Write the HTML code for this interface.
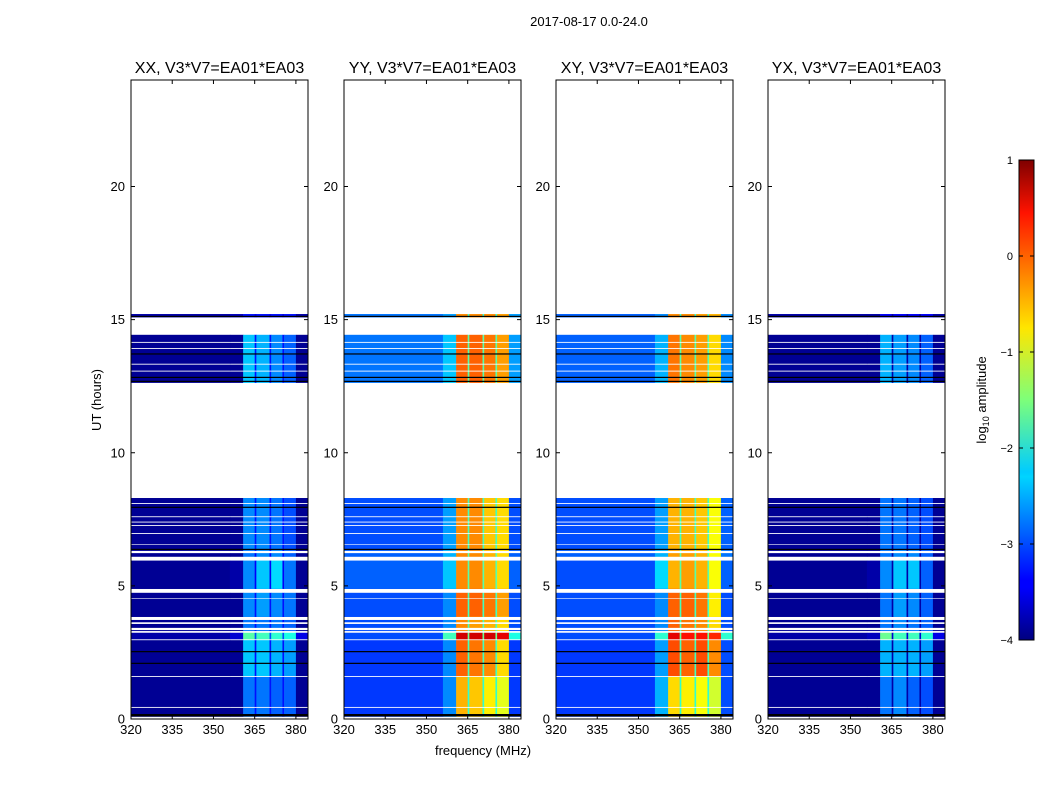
<!DOCTYPE html>
<html><head><meta charset="utf-8"><style>
body{margin:0;background:#fff;width:1050px;height:800px;overflow:hidden;font-family:"Liberation Sans",sans-serif}
</style></head><body>
<svg id="fig" width="1050" height="800" xmlns="http://www.w3.org/2000/svg" style="font-family:'Liberation Sans',sans-serif">
<text x="589" y="26" font-size="13" text-anchor="middle">2017-08-17 0.0-24.0</text>
<text transform="translate(101,400) rotate(-90)" font-size="13" text-anchor="middle">UT (hours)</text>
<text x="483" y="755" font-size="13" text-anchor="middle">frequency (MHz)</text>
<defs><linearGradient id="jet" x1="0" y1="1" x2="0" y2="0">
<stop offset="0" stop-color="#00007f"/><stop offset="0.11" stop-color="#0000ff"/><stop offset="0.125" stop-color="#0000ff"/><stop offset="0.34" stop-color="#00d4ff"/><stop offset="0.35" stop-color="#0cf"/><stop offset="0.5" stop-color="#7dff7a"/><stop offset="0.65" stop-color="#ffe600"/><stop offset="0.89" stop-color="#ff1300"/><stop offset="1" stop-color="#7f0000"/></linearGradient></defs>
<g>
<rect x="1019" y="160" width="15" height="480" fill="url(#jet)" stroke="#000" stroke-width="1"/>
<text transform="translate(986,400) rotate(-90)" font-size="13" text-anchor="middle">log<tspan font-size="9" dy="3">10</tspan><tspan dy="-3"> amplitude</tspan></text>
</g>
<g id="panels"></g>
<g id="cbticks"></g>
</svg>
<script>
const panelTitles = ["XX, V3*V7=EA01*EA03","YY, V3*V7=EA01*EA03","XY, V3*V7=EA01*EA03","YX, V3*V7=EA01*EA03"];
const dataSegments = [[0.09,0.42],[0.46,1.58],[1.62,2.96],[3.0,3.24],[3.31,3.34],[3.43,3.57],[3.64,3.72],[3.84,4.52],[4.55,4.74],[4.89,5.95],[6.10,6.23],[6.32,6.55],[6.58,6.95],[6.99,7.25],[7.29,7.38],[7.42,7.58],[7.62,8.08],[8.12,8.30],[12.63,13.05],[13.09,13.31],[13.35,13.90],[13.94,14.13],[14.17,14.43],[15.09,15.21]];
const blackLines = [0.165,2.09,2.53,6.37,7.95,12.68,12.83,13.71,15.12];
const blockEdges = [0,1.6,3.0,3.3,3.85,4.9,6.0,6.35,8.3,14.43,15.3];
const freqEdges = [320,356,360.8,365,365.6,370.4,371,375.1,375.7,380,384.4];
const valsXX = [
[-3.9,-3.9,-2.8,-3.3,-2.8,-3.3,-2.9,-3.3,-2.9,-3.9],
[-3.9,-3.9,-2.4,-3.3,-2.4,-3.3,-2.5,-3.3,-2.6,-3.9],
[-3.8,-3.6,-1.7,-3.0,-1.8,-3.0,-1.9,-3.0,-2.0,-3.5],
[-3.9,-3.9,-2.8,-3.3,-2.8,-3.3,-2.8,-3.3,-2.9,-3.9],
[-3.9,-3.9,-2.7,-3.3,-2.6,-3.3,-2.7,-3.3,-2.8,-3.9],
[-3.9,-3.8,-2.7,-3.4,-2.4,-3.4,-2.3,-3.4,-2.8,-3.9],
[-3.9,-3.9,-2.8,-3.4,-2.7,-3.4,-2.7,-3.4,-2.9,-3.9],
[-3.9,-3.9,-2.7,-3.3,-2.7,-3.3,-2.8,-3.3,-3.0,-3.9],
[-3.9,-3.9,-2.4,-3.3,-2.5,-3.3,-2.7,-3.3,-2.9,-3.9],
[-3.8,-3.7,-3.3,-3.5,-3.3,-3.5,-3.3,-3.5,-3.3,-3.8]];
const valsYY = [
[-3.1,-2.7,-0.5,-1.9,-0.6,-1.9,-0.8,-1.9,-1.0,-3.1],
[-3.1,-2.7,-0.1,-1.8,-0.2,-1.8,-0.3,-1.8,-0.7,-3.1],
[-3.0,-1.8,0.6,-1.6,0.6,-1.6,0.6,-1.6,0.5,-2.0],
[-3.0,-2.7,-0.3,-1.8,-0.4,-1.8,-0.5,-1.8,-0.7,-3.0],
[-3.0,-2.7,-0.1,-1.8,-0.1,-1.8,-0.2,-1.8,-0.4,-3.0],
[-2.9,-2.4,-0.3,-1.7,-0.3,-1.7,-0.5,-1.7,-0.7,-2.9],
[-2.9,-2.5,-0.3,-1.7,-0.3,-1.7,-0.5,-1.7,-0.7,-2.9],
[-3.0,-2.6,-0.3,-1.8,-0.3,-1.8,-0.6,-1.8,-0.7,-3.0],
[-2.8,-2.4,-0.1,-1.7,-0.1,-1.7,-0.2,-1.7,-0.4,-2.6],
[-2.8,-2.6,-0.3,-1.9,-0.3,-1.9,-0.3,-1.9,-0.4,-2.6]];
const valsXY = [
[-3.1,-2.5,-0.7,-1.9,-0.8,-1.9,-0.9,-1.9,-1.1,-3.0],
[-3.1,-2.6,0.0,-1.8,-0.1,-1.8,0.0,-1.8,-0.3,-3.0],
[-3.0,-1.9,0.5,-1.6,0.3,-1.6,0.3,-1.6,0.2,-1.9],
[-3.0,-2.7,-0.1,-1.8,-0.2,-1.8,-0.3,-1.8,-0.7,-3.0],
[-3.0,-2.7,-0.1,-1.8,-0.1,-1.8,-0.2,-1.8,-0.8,-3.0],
[-3.0,-2.3,-0.5,-1.7,-0.4,-1.7,-0.5,-1.7,-0.9,-2.9],
[-2.9,-2.5,-0.4,-1.7,-0.4,-1.7,-0.5,-1.7,-0.9,-2.8],
[-3.0,-2.6,-0.5,-1.8,-0.5,-1.8,-0.6,-1.8,-0.9,-2.9],
[-2.9,-2.5,-0.2,-1.7,-0.3,-1.7,-0.4,-1.7,-0.7,-2.7],
[-2.9,-2.7,-0.3,-1.9,-0.3,-1.9,-0.4,-1.9,-0.5,-2.7]];
const valsYX = [
[-3.9,-3.9,-2.8,-3.8,-2.7,-3.8,-2.9,-3.8,-3.0,-3.9],
[-3.9,-3.9,-2.5,-3.8,-2.5,-3.8,-2.5,-3.8,-2.6,-3.9],
[-3.8,-3.7,-1.6,-3.6,-1.8,-3.6,-1.8,-3.6,-1.9,-3.5],
[-3.9,-3.9,-2.8,-3.8,-2.7,-3.8,-2.8,-3.8,-2.9,-3.9],
[-3.9,-3.9,-2.8,-3.8,-2.6,-3.8,-2.7,-3.8,-2.9,-3.9],
[-3.9,-3.8,-2.7,-3.8,-2.4,-3.8,-2.4,-3.8,-2.9,-3.9],
[-3.9,-3.9,-2.8,-3.8,-2.7,-3.8,-2.7,-3.8,-2.9,-3.9],
[-3.9,-3.9,-2.8,-3.8,-2.8,-3.8,-2.9,-3.8,-3.0,-3.9],
[-3.9,-3.9,-2.5,-3.8,-2.6,-3.8,-2.7,-3.8,-2.9,-3.9],
[-3.8,-3.8,-3.4,-3.8,-3.4,-3.8,-3.4,-3.8,-3.4,-3.8]];
const panelValues = [valsXX, valsYY, valsXY, valsYX];
const xTicks = [320,335,350,365,380];
const yTicks = [0,5,10,15,20];
const cbTicks = [1,0,-1,-2,-3,-4];

const NS="http://www.w3.org/2000/svg";
const panelLefts=[131,344,556,768], PW=177, PT=80, PB=719;
const vmin=-4, vmax=1, fmin=320, fmax=384.4, tmin=0, tmax=24;
function jet(v){let t=(v-vmin)/(vmax-vmin);t=Math.max(0,Math.min(1,t));
 const c=x=>Math.round(255*Math.max(0,Math.min(1,x)));
 return `rgb(${c(1.5-Math.abs(4*t-3))},${c(1.5-Math.abs(4*t-2))},${c(1.5-Math.abs(4*t-1))})`;}
function mk(tag,attrs,parent){const e=document.createElementNS(NS,tag);for(const k in attrs)e.setAttribute(k,attrs[k]);parent.appendChild(e);return e;}
function blockOf(h){for(let i=0;i<blockEdges.length-1;i++){if(h>=blockEdges[i]&&h<blockEdges[i+1])return i;}return blockEdges.length-2;}
const root=document.getElementById('panels');
panelValues.forEach((vals,p)=>{
 const L=panelLefts[p];
 const xs=f=>L+(f-fmin)/(fmax-fmin)*PW;
 const ys=h=>PB-(h-tmin)/(tmax-tmin)*(PB-PT);
 const g=mk('g',{},root);
 
 
 dataSegments.forEach(seg=>{
  let cuts=[seg[0]];blockEdges.forEach(b=>{if(b>seg[0]&&b<seg[1])cuts.push(b);});cuts.push(seg[1]);
  for(let k=0;k<cuts.length-1;k++){
   const bi=blockOf((cuts[k]+cuts[k+1])/2);
   for(let j=0;j<freqEdges.length-1;j++){
    const r=mk('rect',{x:xs(freqEdges[j]).toFixed(2),y:ys(cuts[k+1]).toFixed(2),width:(xs(freqEdges[j+1])-xs(freqEdges[j])+0.3).toFixed(2),height:(ys(cuts[k])-ys(cuts[k+1])+0.2).toFixed(2),fill:jet(vals[bi][j])},g);
    
    
   }
  }
 });
 blackLines.forEach(h=>{
  const l=mk('rect',{x:L,y:(ys(h)-0.6).toFixed(2),width:PW,height:(h<0.5?2.4:1.2),fill:'#000'},g);
  
  
 });
 const fr=mk('rect',{x:L,y:PT,width:PW,height:PB-PT,fill:'none',stroke:'#000','stroke-width':1},g);
 
 
 const tt=mk('text',{x:L+PW/2,y:73,'font-size':16,'text-anchor':'middle'},g);tt.textContent=panelTitles[p];
 
 
 xTicks.forEach(f=>{const x=xs(f);
  mk('line',{x1:x,x2:x,y1:PB,y2:PB-4,stroke:'#000'},g);mk('line',{x1:x,x2:x,y1:PT,y2:PT+4,stroke:'#000'},g);
  const t=mk('text',{x:x,y:PB+15,'font-size':13,'text-anchor':'middle'},g);t.textContent=f;
  
  });
 yTicks.forEach(h=>{const y=ys(h);
  mk('line',{x1:L,x2:L+4,y1:y,y2:y,stroke:'#000'},g);mk('line',{x1:L+PW,x2:L+PW-4,y1:y,y2:y,stroke:'#000'},g);
  const t=mk('text',{x:L-6,y:y+4.5,'font-size':13,'text-anchor':'end'},g);t.textContent=h;
  
  });
});
const cb=document.getElementById('cbticks');
cbTicks.forEach(v=>{const y=640-(v-vmin)/(vmax-vmin)*480;
 mk('line',{x1:1019,x2:1023,y1:y,y2:y,stroke:'#000'},cb);mk('line',{x1:1034,x2:1030,y1:y,y2:y,stroke:'#000'},cb);
 const t=mk('text',{x:1013,y:y+4,'font-size':11,'text-anchor':'end'},cb);t.textContent=(v<0?'\u2212'+(-v):v);
 
 });
</script>
</body></html>
